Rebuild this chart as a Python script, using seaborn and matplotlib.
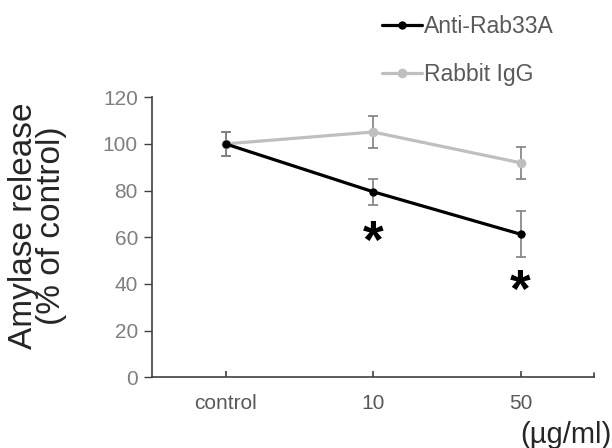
import numpy as np
import pandas as pd
import matplotlib
matplotlib.use("Agg")
import matplotlib.pyplot as plt
import seaborn as sns

# Data
doses = ["control", "10", "50"]
anti_mean = [100, 79.5, 61.3]
anti_err = [5.2, 5.5, 9.8]
igg_mean = [100, 105.1, 91.9]
igg_err = [5.2, 6.7, 6.8]
star_pos = [1, 2]
star_y = [62, 41]  # centre of the significance marks

sns.set_style("ticks")
plt.rcParams['font.family'] = ['Liberation Sans', 'DejaVu Sans']

df = pd.DataFrame({
    "pos": list(range(3)) * 2,
    "value": anti_mean + igg_mean,
    "group": ["Anti-Rab33A"] * 3 + ["Rabbit IgG"] * 3,
})

fig = plt.figure(figsize=(6.12, 4.48), dpi=100)
ax = fig.add_axes([0.248, 0.158, 0.723, 0.625])

colors = {"Anti-Rab33A": "#000000", "Rabbit IgG": "#bfbfbf"}

# error bars first so lines sit on top
ax.errorbar(range(3), anti_mean, yerr=anti_err, fmt="none", ecolor="#7f7f7f",
            elinewidth=1.2, capsize=3.3, capthick=1.2, zorder=1)
ax.errorbar(range(3), igg_mean, yerr=igg_err, fmt="none", ecolor="#7f7f7f",
            elinewidth=1.2, capsize=3.3, capthick=1.2, zorder=1)

sns.lineplot(data=df[df.group == "Rabbit IgG"], x="pos", y="value", color=colors["Rabbit IgG"],
             marker="o", markersize=7, linewidth=2.3, markeredgewidth=0, ax=ax, zorder=2,
             label="Rabbit IgG", legend=False)
sns.lineplot(data=df[df.group == "Anti-Rab33A"], x="pos", y="value", color=colors["Anti-Rab33A"],
             marker="o", markersize=6, linewidth=2.3, markeredgewidth=0, ax=ax, zorder=3,
             label="Anti-Rab33A", legend=False)

# asterisk glyph sits above the baseline, so shift down to centre it
for i, y in zip(star_pos, star_y):
    ax.text(i, y - 11, "*", fontsize=38, fontweight="bold", ha="center", va="baseline", color="black")

ax.set_xlim(-0.5, 2.5)
ax.set_ylim(0, 120)
ax.set_xticks(range(3))
ax.set_xticklabels(doses)
ax.set_yticks(range(0, 121, 20))
ax.tick_params(axis="y", direction="out", length=6, width=1, labelsize=15, colors="#404040", pad=4)
ax.tick_params(axis="x", direction="in", length=4, width=1.2, labelsize=15, colors="#404040", pad=12)
for lab in ax.get_yticklabels():
    lab.set_color("#7f7f7f")
for lab in ax.get_xticklabels():
    lab.set_color("#595959")
ax.set_xlabel("")
ax.set_ylabel("Amylase release\n(% of control)", fontsize=24, color="#262626", labelpad=26, linespacing=0.85)
ax.yaxis.label.set_y(0.54)
sns.despine(ax=ax)
for side in ["left", "bottom"]:
    ax.spines[side].set_color("#404040")
    ax.spines[side].set_linewidth(1.2)
# small end tick at right end of the x axis
ax.plot([2.5, 2.5], [0, 1.7], color="#404040", lw=1.2, clip_on=False)

handles, labels = ax.get_legend_handles_labels()
order = [labels.index("Anti-Rab33A"), labels.index("Rabbit IgG")]
leg = fig.legend([handles[i] for i in order], [labels[i] for i in order],
                 loc="upper left", bbox_to_anchor=(0.624, 0.966), frameon=False,
                 fontsize=16.5, handlelength=1.75, labelspacing=1.1, handletextpad=0.1,
                 borderpad=0, borderaxespad=0)
for t in leg.get_texts():
    t.set_color("#595959")

fig.text(1.0, -0.003, "(\u00b5g/ml)", ha="right", va="bottom", fontsize=21, color="#262626")

fig.savefig("out.png", dpi=100)
